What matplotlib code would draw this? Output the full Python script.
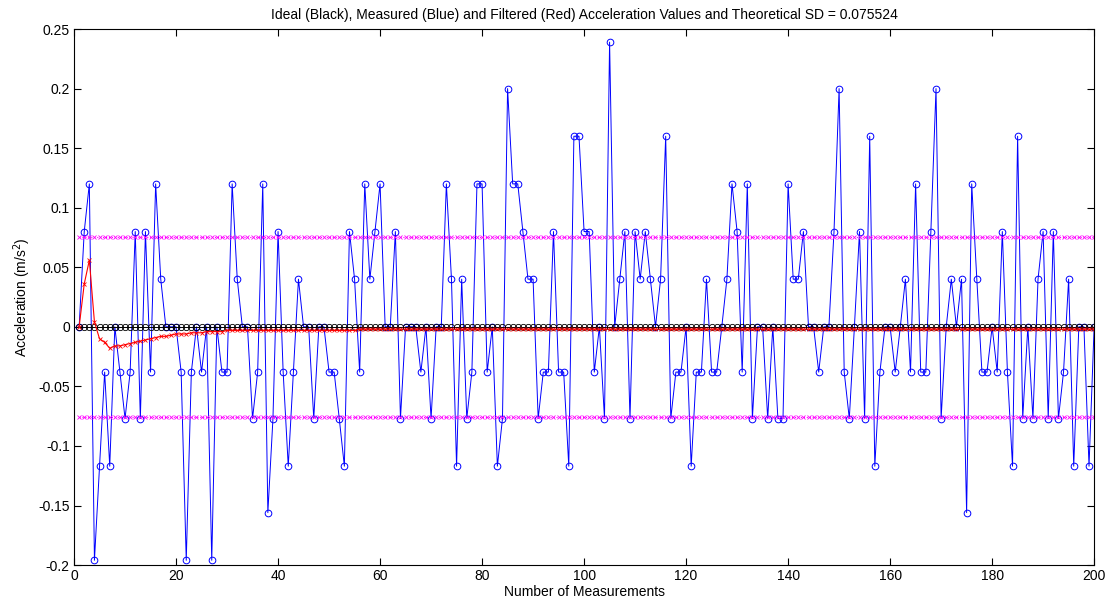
import numpy as np
import matplotlib.pyplot as plt
from matplotlib.ticker import FuncFormatter

plt.rcParams['font.family'] = ['Liberation Sans', 'DejaVu Sans']
plt.rcParams['axes.unicode_minus'] = False

theoretical_sd = 0.075524

# measured acceleration (quantised sensor readings), one per measurement
measured = [
    0, 0.08, 0.12, -0.196, -0.117, -0.038, -0.117, 0, -0.038, -0.077,
    -0.038, 0.08, -0.077, 0.08, -0.038, 0.12, 0.04, 0, 0, 0,
    -0.038, -0.196, -0.038, 0, -0.038, 0, -0.196, 0, -0.038, -0.038,
    0.12, 0.04, 0, 0, -0.077, -0.038, 0.12, -0.156, -0.077, 0.08,
    -0.038, -0.117, -0.038, 0.04, 0, 0, -0.077, 0, 0, -0.038,
    -0.038, -0.077, -0.117, 0.08, 0.04, -0.038, 0.12, 0.04, 0.08, 0.12,
    0, 0, 0.08, -0.077, 0, 0, 0, -0.038, 0, -0.077,
    0, 0, 0.12, 0.04, -0.117, 0.04, -0.077, -0.038, 0.12, 0.12,
    -0.038, 0, -0.117, -0.077, 0.2, 0.12, 0.12, 0.08, 0.04, 0.04,
    -0.077, -0.038, -0.038, 0.08, -0.038, -0.038, -0.117, 0.16, 0.16, 0.08,
    0.08, -0.038, 0, -0.077, 0.239, 0, 0.04, 0.08, -0.077, 0.08,
    0.04, 0.08, 0.04, 0, 0.04, 0.16, -0.077, -0.038, -0.038, 0,
    -0.117, -0.038, -0.038, 0.04, -0.038, -0.038, 0, 0.04, 0.12, 0.08,
    -0.038, 0.12, -0.077, 0, 0, -0.077, 0, -0.077, -0.077, 0.12,
    0.04, 0.04, 0.08, 0, 0, -0.038, 0, 0, 0.08, 0.2,
    -0.038, -0.077, 0, 0.08, -0.077, 0.16, -0.117, -0.038, 0, 0,
    -0.038, 0, 0.04, -0.038, 0.12, -0.038, -0.038, 0.08, 0.2, -0.077,
    0, 0.04, 0, 0.04, -0.156, 0.12, 0.04, -0.038, -0.038, 0,
    -0.038, 0.08, -0.038, -0.117, 0.16, -0.077, 0, -0.077, 0.04, 0.08,
    -0.077, 0.08, -0.077, -0.038, 0.04, -0.117, 0, 0, -0.117, 0,
]

# filter output
filtered = [
    0, 0.036, 0.056, 0.004, -0.010, -0.013, -0.018, -0.016, -0.016, -0.015,
    -0.014, -0.013, -0.012, -0.011, -0.010, -0.009, -0.008, -0.008, -0.007, -0.006,
    -0.006, -0.006, -0.005, -0.005, -0.005, -0.004, -0.004, -0.004, -0.004, -0.003,
    -0.003, -0.003, -0.003, -0.003, -0.003, -0.003, -0.003, -0.003, -0.003, -0.003,
    -0.003, -0.003, -0.003, -0.003, -0.003, -0.003, -0.003, -0.003, -0.003, -0.003,
    -0.003, -0.003, -0.003, -0.003, -0.003, -0.002, -0.002, -0.002, -0.002, -0.002,
    -0.002, -0.002, -0.002, -0.002, -0.002, -0.002, -0.002, -0.002, -0.002, -0.002,
    -0.002, -0.002, -0.002, -0.002, -0.002, -0.002, -0.002, -0.002, -0.002, -0.002,
    -0.002, -0.002, -0.002, -0.002, -0.002, -0.002, -0.002, -0.002, -0.002, -0.002,
    -0.002, -0.002, -0.002, -0.002, -0.002, -0.002, -0.002, -0.002, -0.002, -0.002,
    -0.002, -0.002, -0.002, -0.002, -0.002, -0.002, -0.002, -0.002, -0.002, -0.002,
    -0.002, -0.002, -0.002, -0.002, -0.002, -0.002, -0.002, -0.002, -0.002, -0.002,
    -0.002, -0.002, -0.002, -0.002, -0.002, -0.002, -0.002, -0.002, -0.002, -0.002,
    -0.002, -0.002, -0.002, -0.002, -0.002, -0.002, -0.002, -0.002, -0.002, -0.002,
    -0.002, -0.002, -0.002, -0.002, -0.002, -0.002, -0.002, -0.002, -0.002, -0.002,
    -0.002, -0.002, -0.002, -0.002, -0.002, -0.002, -0.002, -0.002, -0.002, -0.002,
    -0.002, -0.002, -0.002, -0.002, -0.002, -0.002, -0.002, -0.002, -0.002, -0.002,
    -0.002, -0.002, -0.002, -0.002, -0.002, -0.002, -0.002, -0.002, -0.002, -0.002,
    -0.002, -0.002, -0.002, -0.002, -0.002, -0.002, -0.002, -0.002, -0.002, -0.002,
    -0.002, -0.002, -0.002, -0.002, -0.002, -0.002, -0.002, -0.002, -0.002, -0.002,
]

n = np.arange(1, len(measured) + 1)
ideal = np.zeros(len(measured))


def tick_fmt(v, pos):
    v = round(v, 4)
    if abs(v) < 1e-9:
        return '0'
    return '%g' % v


fig = plt.figure(figsize=(11.1, 6.05), dpi=100)
ax = fig.add_axes([0.0667, 0.066, 0.919, 0.886])

ax.plot(n, measured, '-o', color='blue', lw=0.7, ms=4.8, mfc='none', mew=0.7)
ax.plot(n, ideal, '-o', color='black', lw=0.7, ms=4.5, mfc='none', mew=0.6)
ax.plot(n, filtered, '-x', color='red', lw=0.8, ms=2.5, mew=0.6)
ax.plot(n, np.full(len(n), theoretical_sd), ':x', color='magenta', lw=0.8, ms=3, mew=0.6)
ax.plot(n, np.full(len(n), -theoretical_sd), ':x', color='magenta', lw=0.8, ms=3, mew=0.6)

ax.set_xlim(0, 200)
ax.set_ylim(-0.2, 0.25)
ax.set_xticks(np.arange(0, 201, 20))
ax.set_yticks(np.arange(-0.2, 0.2501, 0.05))
ax.yaxis.set_major_formatter(FuncFormatter(tick_fmt))
ax.tick_params(direction='in', top=True, right=True, length=5, width=0.8, labelsize=10, pad=3)
for s in ax.spines.values():
    s.set_linewidth(0.8)

ax.set_title('Ideal (Black), Measured (Blue) and Filtered (Red) Acceleration Values and Theoretical SD = 0.075524',
             fontsize=10, pad=7)
ax.set_xlabel('Number of Measurements', fontsize=10, labelpad=1)
ax.set_ylabel('Acceleration (m/s$^2$)', fontsize=10, labelpad=4)

plt.savefig('out.png', dpi=100)
